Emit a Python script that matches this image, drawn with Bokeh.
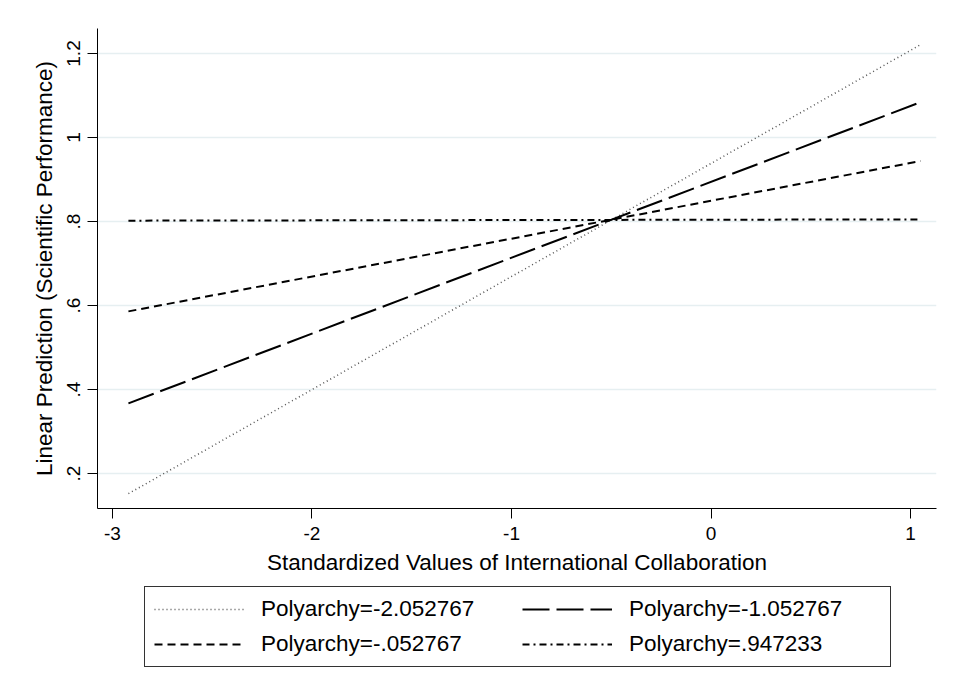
from bokeh.plotting import figure
from bokeh.layouts import column
from bokeh.models import Legend, LegendItem, FixedTicker, CustomJSTickFormatter, Range1d
from bokeh.embed import file_html
from bokeh.resources import INLINE

# ---- data ----
x_vals = [-2.92, 1.05]
series_names = ["Polyarchy=-2.052767", "Polyarchy=-1.052767",
                "Polyarchy=-.052767", "Polyarchy=.947233"]
y_poly_m2 = [0.152, 1.221]
y_poly_m1 = [0.367, 1.084]
y_poly_m0 = [0.586, 0.944]
y_poly_p1 = [0.802, 0.805]
x_ticks = [-3, -2, -1, 0, 1]
y_ticks = [0.2, 0.4, 0.6, 0.8, 1.0, 1.2]

FONT = "Liberation Sans"

series_y = [y_poly_m2, y_poly_m1, y_poly_m0, y_poly_p1]
styles = [dict(line_color="#555555", line_width=1.5, line_dash="1 3"),
          dict(line_color="black", line_width=2, line_dash="27 7"),
          dict(line_color="black", line_width=2, line_dash="8 5"),
          dict(line_color="black", line_width=2, line_dash="7 4 2 4")]

# ---------------- main plot ----------------
p = figure(width=944, height=584, output_backend="svg", toolbar_location=None,
           x_range=Range1d(-3.075, 1.13), y_range=Range1d(0.1167, 1.2595),
           min_border_left=97, min_border_right=8, min_border_top=28,
           min_border_bottom=76)
p.outline_line_color = None
p.background_fill_color = "white"
p.border_fill_color = "white"

p.xgrid.visible = False
p.ygrid.ticker = FixedTicker(ticks=y_ticks)
p.ygrid.grid_line_color = "#e6eff1"
p.ygrid.grid_line_width = 1.5

p.xaxis.ticker = FixedTicker(ticks=x_ticks)
p.xaxis.formatter = CustomJSTickFormatter(code="return String(tick);")
p.yaxis.ticker = FixedTicker(ticks=y_ticks)
p.yaxis.formatter = CustomJSTickFormatter(code="""
let s = tick.toFixed(1);
if (s.endsWith('.0')) { s = s.slice(0, -2); }
if (s.startsWith('0.')) { s = s.slice(1); }
return s;
""")
p.yaxis.major_label_orientation = "vertical"

for ax in (p.xaxis, p.yaxis):
    ax.axis_line_color = "black"
    ax.axis_line_width = 1
    ax.major_tick_line_color = "black"
    ax.major_tick_in = 0
    ax.major_tick_out = 10
    ax.minor_tick_line_color = None
    ax.major_label_text_font = FONT
    ax.major_label_text_font_size = "19px"
    ax.major_label_text_color = "black"
    ax.axis_label_text_font = FONT
    ax.axis_label_text_font_size = "22.5px"
    ax.axis_label_text_font_style = "normal"
    ax.axis_label_text_color = "black"

p.xaxis.axis_label = "Standardized Values of International Collaboration"
p.yaxis.axis_label = "Linear Prediction (Scientific Performance)"
p.xaxis.major_label_standoff = 8
p.yaxis.major_label_standoff = 7
p.xaxis.axis_label_standoff = 7
p.yaxis.axis_label_standoff = 8

for ys, st in zip(series_y, styles):
    p.line(x_vals, ys, **st)

# ---------------- legend panel ----------------
lg = figure(width=944, height=98, output_backend="svg", toolbar_location=None,
            x_axis_type=None, y_axis_type=None,
            x_range=Range1d(-3.075, 1.13), y_range=Range1d(10, 11),
            min_border_left=97, min_border_right=8, min_border_top=0,
            min_border_bottom=0)
lg.outline_line_color = None
lg.xgrid.visible = False
lg.ygrid.visible = False
leg_r = [lg.line(x_vals, ys, **st) for ys, st in zip(series_y, styles)]

# Bokeh fills legend columns first: order so rows read as in the reference
order = [0, 2, 1, 3]
legend = Legend(items=[LegendItem(label=series_names[i], renderers=[leg_r[i]]) for i in order],
                ncols=2, location=(47, 15), margin=0, padding=9, spacing=9,
                glyph_width=90, glyph_height=20, label_standoff=17,
                label_width=252, label_height=20,
                label_text_font=FONT, label_text_font_size="22.5px",
                label_text_color="black",
                border_line_color="#333333", border_line_width=1, border_line_alpha=1,
                background_fill_color="white", background_fill_alpha=1)
lg.add_layout(legend, "center")

layout = column(p, lg, spacing=0)
open("out.html", "w").write(file_html(layout, INLINE))
